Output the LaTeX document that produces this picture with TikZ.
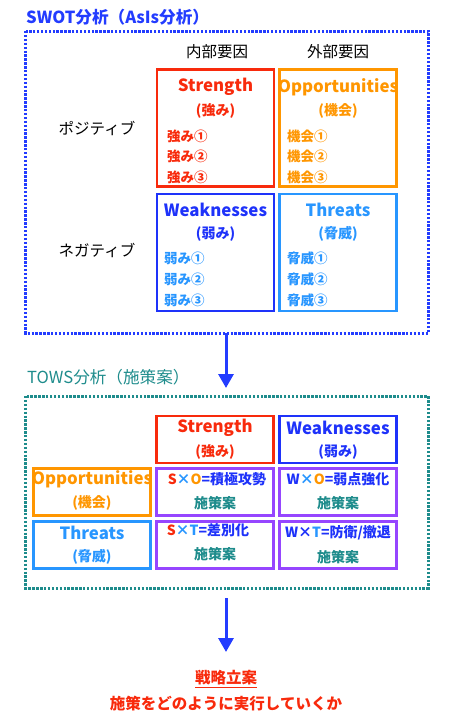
\documentclass[tikz,border=0pt]{standalone}
\usepackage{fontspec}
\setmainfont{Noto Sans CJK JP}
\usetikzlibrary{arrows.meta,shadows}
\definecolor{swotblue}{RGB}{35,60,255}
\definecolor{sred}{RGB}{248,42,12}
\definecolor{sorange}{RGB}{255,150,0}
\definecolor{sblue}{RGB}{30,50,250}
\definecolor{slight}{RGB}{40,150,255}
\definecolor{steal}{RGB}{30,140,140}
\definecolor{spurple}{RGB}{150,70,255}
\tikzset{
  cell/.style={draw, line width=2.6pt, minimum width=117pt, minimum height=117pt, inner sep=0pt,
    drop shadow={opacity=0.35, shadow xshift=1pt, shadow yshift=-1pt}, fill=white},
  tcell/.style={draw, line width=2.6pt, minimum width=117pt, minimum height=47pt, inner sep=0pt,
    drop shadow={opacity=0.35, shadow xshift=1pt, shadow yshift=-1pt}, fill=white},
  ttl/.style={font=\fontsize{16.8}{19}\selectfont\bfseries, inner sep=0pt},
  sub/.style={font=\fontsize{14}{17}\selectfont\bfseries, inner sep=0pt},
  item/.style={font=\fontsize{13.5}{16}\selectfont\bfseries, inner sep=0pt, anchor=west},
  lbl/.style={font=\fontsize{15.5}{18}\selectfont, inner sep=0pt},
  frame/.style={line width=3pt, dash pattern=on 2.4pt off 1.5pt},
  flow/.style={draw=swotblue, line width=3pt, -{Triangle[width=15pt,length=14pt]}}
}
\begin{document}
\begin{tikzpicture}[x=1pt,y=-1pt]
\useasboundingbox (0,0) rectangle (456,724);
% ---- SWOT ----
\node[anchor=west, text=swotblue, font=\fontsize{16.6}{19}\selectfont\bfseries, inner sep=0pt] (swottitle) at (26,17) {SWOT分析（AsIs分析）};
\draw[frame, draw=swotblue] (25.5,31) rectangle (428.5,333);
\coordinate (swottop) at (226,333);
\node[lbl] (naibu) at (217,52) {内部要因};
\node[lbl] (gaibu) at (338,52) {外部要因};
\node[lbl] (posi) at (97,128) {ポジティブ};
\node[lbl] (nega) at (97,250) {ネガティブ};

\node[cell, draw=sred] (S) at (215.5,128) {};
\node[cell, draw=sorange] (O) at (338,128) {};
\node[cell, draw=sblue] (W) at (215.5,252.5) {};
\node[cell, draw=slight] (T) at (338,252.5) {};

\node[ttl, text=sred] (St) at (215.5,87) {Strength};
\node[sub, text=sred] (Ss) at (215.5,111) {(強み)};
\node[item, text=sred] (S1) at (167,136) {強み①};
\node[item, text=sred] (S2) at (167,156) {強み②};
\node[item, text=sred] (S3) at (167,177) {強み③};

\node[ttl, text=sorange] (Ot) at (338,87) {Opportunities};
\node[sub, text=sorange] (Os) at (338,111) {(機会)};
\node[item, text=sorange] (O1) at (287,136) {機会①};
\node[item, text=sorange] (O2) at (287,156) {機会②};
\node[item, text=sorange] (O3) at (287,177) {機会③};

\node[ttl, text=sblue] (Wt) at (215.5,210) {Weaknesses};
\node[sub, text=sblue] (Ws) at (215.5,234) {(弱み)};
\node[item, text=slight] (W1) at (164,258) {弱み①};
\node[item, text=slight] (W2) at (164,279) {弱み②};
\node[item, text=slight] (W3) at (164,300) {弱み③};

\node[ttl, text=slight] (Tt) at (338,210) {Threats};
\node[sub, text=slight] (Ts) at (338,234) {(脅威)};
\node[item, text=slight] (T1) at (287,258) {脅威①};
\node[item, text=slight] (T2) at (287,279) {脅威②};
\node[item, text=slight] (T3) at (287,300) {脅威③};

% ---- arrow 1 ----
\coordinate (towsin) at (226,388);
\draw[flow] (swottop) -- (towsin);

% ---- TOWS ----
\node[anchor=west, text=steal, font=\fontsize{16.6}{19}\selectfont, inner sep=0pt] (towstitle) at (27,377) {TOWS分析（施策案）};
\draw[frame, draw=steal] (25.5,396) rectangle (428,588);
\coordinate (towsbot) at (226,588);

\node[tcell, draw=sred] (tS) at (215,439.5) {};
\node[tcell, draw=sblue] (tW) at (338,439.5) {};
\node[tcell, draw=sorange] (tO) at (92,492) {};
\node[tcell, draw=spurple] (SO) at (215,492) {};
\node[tcell, draw=spurple] (WO) at (338,492) {};
\node[tcell, draw=slight] (tT) at (92,545) {};
\node[tcell, draw=spurple] (ST) at (215,545) {};
\node[tcell, draw=spurple] (WT) at (338,545) {};

\node[ttl, text=sred] (tSt) at (215,428) {Strength};
\node[sub, text=sred] (tSs) at (215,452) {(強み)};
\node[ttl, text=sblue] (tWt) at (338,428) {Weaknesses};
\node[sub, text=sblue] (tWs) at (338,452) {(弱み)};
\node[ttl, text=sorange] (tOt) at (92,479) {Opportunities};
\node[sub, text=sorange] (tOs) at (92,503) {(機会)};
\node[ttl, text=slight] (tTt) at (92,533) {Threats};
\node[sub, text=slight] (tTs) at (92,557) {(脅威)};

\node[sub, text=sblue] (SOt) at (217,479) {\textcolor{sred}{S}\textcolor{slight}{×}\textcolor{sorange}{O}=積極攻勢};
\node[sub, text=steal] (SOs) at (215,503) {施策案};
\node[sub, text=sblue] (WOt) at (338,479) {W\textcolor{slight}{×}\textcolor{sorange}{O}=弱点強化};
\node[sub, text=steal] (WOs) at (338,503) {施策案};
\node[sub, text=sblue] (STt) at (208,530) {\textcolor{sred}{S}\textcolor{slight}{×}\textcolor{slight}{T}=差別化};
\node[sub, text=steal] (STs) at (215,554) {施策案};
\node[sub, text=sblue] (WTt) at (338,533) {W×\textcolor{slight}{T}=防衛/撤退};
\node[sub, text=steal] (WTs) at (338,557) {施策案};

% ---- arrow 2 ----
\node[text=sred, font=\fontsize{15.5}{18}\selectfont\bfseries, inner sep=0pt] (senryaku) at (226,679) {\underline{戦略立案}};
\node[text=sred, font=\fontsize{15.5}{18}\selectfont\bfseries, inner sep=0pt] (jikko) at (226,704) {施策をどのように実行していくか};
\coordinate (arr2end) at (226,652);
\draw[flow] (towsbot) ++(0,10) coordinate (arr2start) -- (arr2end);
\end{tikzpicture}
\end{document}
